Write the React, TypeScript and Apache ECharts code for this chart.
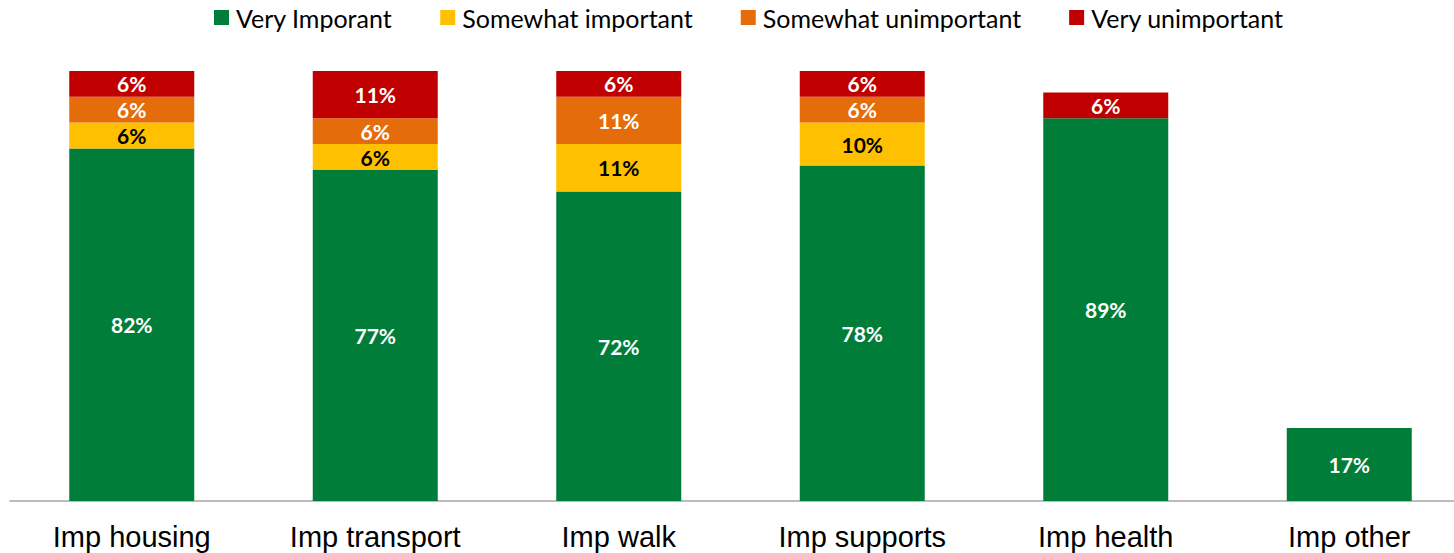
import React, { useEffect, useRef } from "react";
import * as echarts from "echarts";

const categories = ["Imp housing", "Imp transport", "Imp walk", "Imp supports", "Imp health", "Imp other"];
const veryImportant = [82, 77, 72, 78, 89, 17];
const somewhatImportant = [6, 6, 11, 10, null, null];
const somewhatUnimportant = [6, 6, 11, 6, null, null];
const veryUnimportant = [6, 11, 6, 6, 6, null];

const seriesNames = ["Very Imporant", "Somewhat important", "Somewhat unimportant", "Very unimportant"];
const colors = ["#007E39", "#FFC000", "#E46C0A", "#C00000"];
const labelColors = ["#FFFFFF", "#000000", "#FFFFFF", "#FFFFFF"];

export default function App() {
  const ref = useRef<HTMLDivElement>(null);
  useEffect(() => {
    if (!ref.current) return;
    const chart = echarts.init(ref.current, null, { renderer: "svg" });
    const data = [veryImportant, somewhatImportant, somewhatUnimportant, veryUnimportant];
    chart.setOption({
      animation: false,
      legend: {
        top: 4,
        left: 214,
        padding: 0,
        itemWidth: 15,
        itemHeight: 15,
        itemGap: 48,
        icon: "rect",
        textStyle: { fontFamily: "Lato", fontSize: 25, lineHeight: 27, color: "#000", padding: [0, 0, 0, 2] },
        data: seriesNames,
      },
      grid: { left: 10, right: 0, top: 71, bottom: 52, containLabel: false },
      xAxis: {
        type: "category",
        data: categories,
        axisLine: { lineStyle: { color: "#A6A6A6", width: 1.5 } },
        axisTick: { show: false },
        axisLabel: { fontFamily: "Liberation Sans", fontSize: 29, color: "#000", margin: 21 },
      },
      yAxis: { type: "value", min: 0, max: 100, show: false, splitLine: { show: false } },
      series: seriesNames.map((name, i) => ({
        name,
        type: "bar",
        stack: "total",
        barWidth: 125,
        data: data[i],
        itemStyle: { color: colors[i] },
        label: {
          show: true,
          position: "inside",
          formatter: (p: any) => (p.value == null ? "" : p.value + "%"),
          color: labelColors[i],
          fontFamily: "Lato",
          fontWeight: "bold",
          fontSize: 21,
        },
      })),
    });
    return () => chart.dispose();
  }, []);
  return (
    <div style={{ position: "absolute", left: 0, top: 0, width: 1454, height: 553, overflow: "hidden" }}>
      <div ref={ref} style={{ width: 1471, height: 553 }} />
    </div>
  );
}
